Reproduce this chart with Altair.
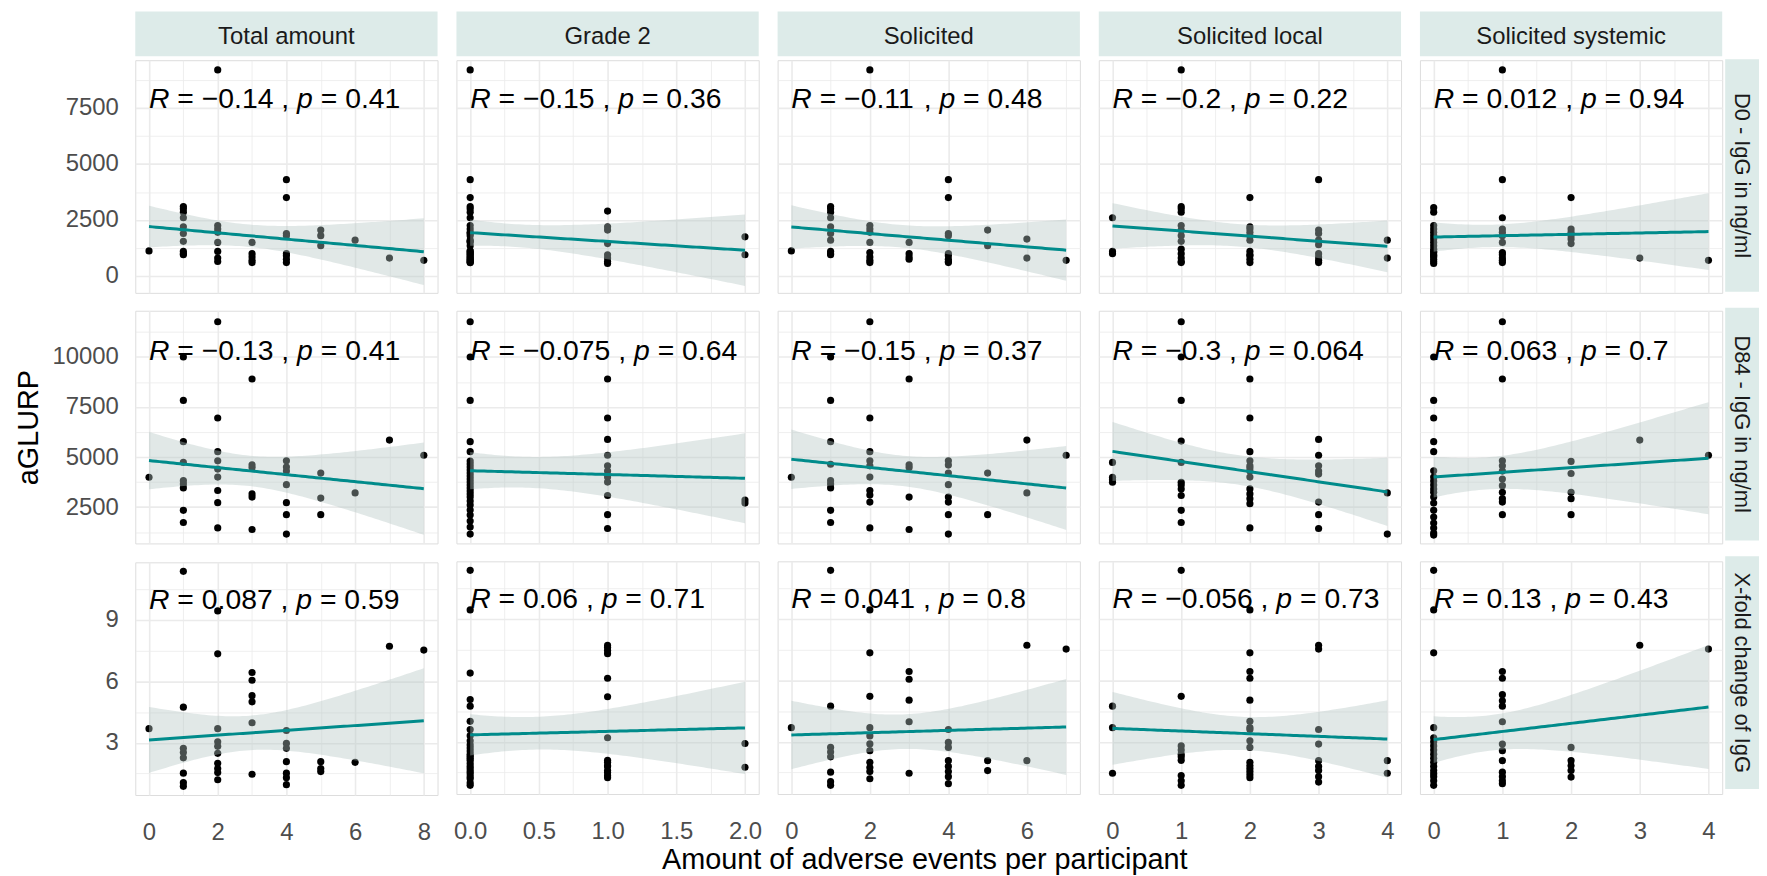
import numpy as np
import pandas as pd
import altair as alt

FONT = "Liberation Sans"

COLUMNS = ["Total amount", "Grade 2", "Solicited", "Solicited local", "Solicited systemic"]
ROWS = ["D0 - IgG in ng/ml", "D84 - IgG in ng/ml", "X-fold change of IgG"]
Y_TITLE = "aGLURP"
X_TITLE = "Amount of adverse events per participant"

R_VALUES = [
    ["−0.14", "−0.15", "−0.11", "−0.2", "0.012"],
    ["−0.13", "−0.075", "−0.15", "−0.3", "0.063"],
    ["0.087", "0.06", "0.041", "−0.056", "0.13"],
]
P_VALUES = [
    ["0.41", "0.36", "0.48", "0.22", "0.94"],
    ["0.41", "0.64", "0.37", "0.064", "0.7"],
    ["0.59", "0.71", "0.8", "0.73", "0.43"],
]

X_DOMAINS = [[-0.4, 8.4], [-0.1, 2.1], [-0.35, 7.35], [-0.2, 4.2], [-0.2, 4.2]]
X_MAJOR = [[0, 2, 4, 6, 8], [0, 0.5, 1, 1.5, 2], [0, 2, 4, 6], [0, 1, 2, 3, 4], [0, 1, 2, 3, 4]]
X_MINOR = [[1, 3, 5, 7], [0.25, 0.75, 1.25, 1.75], [1, 3, 5, 7],
           [0.5, 1.5, 2.5, 3.5], [0.5, 1.5, 2.5, 3.5]]
X_FORMAT = ["d", ".1f", "d", "d", "d"]

Y_DOMAINS = [[-751, 9633], [684, 12310], [0.457, 11.8]]
Y_MAJOR = [[0, 2500, 5000, 7500], [2500, 5000, 7500, 10000], [3, 6, 9]]
Y_MINOR = [[1250, 3750, 6250, 8750], [1250, 3750, 6250, 8750, 11250], [1.5, 4.5, 7.5, 10.5]]

# ---- points: {x value: [y values]} per panel ----
D0_TOTAL = {0: [1120], 1: [3100, 3000, 2850, 2600, 2200, 1900, 1550, 1100, 1000, 950],
            2: [9200, 2250, 2100, 1950, 1500, 1100, 800, 650], 3: [1500, 1000, 850, 700, 600],
            4: [4300, 3500, 1900, 1800, 1000, 900, 750, 600], 5: [2050, 1800, 1350],
            6: [1600], 7: [800], 8: [700]}
D0_GRADE2 = {0: [9200, 4300, 3500, 3100, 3000, 2850, 2600, 2250, 2100, 1950, 1900, 1800, 1600,
                 1550, 1500, 1350, 1120, 1100, 1000, 1000, 900, 850, 800, 750, 700, 650, 600, 600],
             1: [2900, 2200, 2050, 1450, 950, 800, 650, 560], 2: [1750, 950]}
D0_SOLICITED = {0: [1120], 1: [3100, 3000, 2850, 2600, 2200, 1900, 1600, 1100, 1000, 950],
                2: [9200, 2250, 2100, 1950, 1500, 1050, 850, 700, 600], 3: [1500, 1000, 850, 750],
                4: [4300, 3500, 1900, 1800, 1000, 900, 750, 650, 600], 5: [2050, 1350],
                6: [1650, 800], 7: [700]}
D0_LOCAL = {0: [2600, 1100, 1000],
            1: [9200, 3100, 3000, 2850, 2250, 2050, 1800, 1550, 1200, 1000, 800, 650, 600],
            2: [3500, 2200, 2100, 1950, 1800, 1600, 1100, 950, 900, 750, 600],
            3: [4300, 2050, 1900, 1600, 1400, 1000, 850, 700, 600], 4: [1600, 800]}
D0_SYSTEMIC = {0: [3050, 2850, 2250, 2100, 1950, 1800, 1650, 1500, 1350, 1200, 1100, 1050, 950,
                   900, 850, 750, 650, 560],
               1: [9200, 4300, 2600, 2100, 1950, 1800, 1500, 1050, 950, 800, 700, 600],
               2: [3500, 2100, 1950, 1800, 1650, 1450], 3: [800], 4: [700]}

D84_TOTAL = {0: [3990], 1: [10000, 7830, 5770, 4730, 3820, 3650, 3460, 2340, 1730],
             2: [11760, 6950, 5270, 4810, 4400, 4000, 3330, 2720, 1460],
             3: [8900, 4610, 4480, 3160, 3000, 1380],
             4: [4810, 4500, 4300, 3620, 2720, 2120, 1150], 5: [4200, 2950, 2120],
             6: [3210], 7: [5850], 8: [5090]}
D84_GRADE2 = {0: [11760, 10000, 7830, 5770, 5270, 4800, 4650, 4500, 4350, 4200, 4050, 3900, 3750,
                  3600, 3450, 3300, 3150, 3000, 2800, 2600, 2350, 2100, 1800, 1500, 1150],
              1: [8900, 6950, 5880, 5090, 4560, 4300, 4000, 3750, 3080, 2120, 1430],
              2: [2850, 2700]}
D84_SOLICITED = {0: [3990], 1: [10000, 7830, 5770, 4640, 3820, 3650, 3460, 2340, 1730],
                 2: [11760, 6950, 5270, 4810, 4560, 4000, 3330, 3100, 2750, 1460],
                 3: [8900, 4610, 4480, 3000, 1380],
                 4: [4810, 4600, 4200, 3620, 3000, 2750, 2120, 1150], 5: [4200, 2120],
                 6: [5850, 3210], 7: [5090]}
D84_LOCAL = {0: [4730, 3990, 3870, 3740],
             1: [11760, 10000, 7830, 5800, 4730, 3740, 3600, 3400, 3080, 2340, 1730],
             2: [8900, 6950, 5270, 4810, 4560, 4450, 4300, 4000, 3410, 3160, 2920, 2670, 1460],
             3: [5880, 5090, 4560, 4300, 4150, 2750, 2120, 1430], 4: [3210, 1150]}
D84_SYSTEMIC = {0: [10000, 7830, 6950, 5770, 5270, 4310, 4000, 3800, 3600, 3400, 3240, 3000, 2700,
                    2340, 2000, 1700, 1450, 1200, 1100],
                1: [11760, 8900, 4810, 4560, 4300, 3900, 3570, 3240, 2920, 2750, 2120],
                2: [4780, 4180, 3240, 2920, 2120], 3: [5850], 4: [5090]}

XF_TOTAL = {0: [3.69], 1: [11.36, 4.74, 2.73, 2.53, 2.27, 1.52, 1.06, 0.88],
            2: [9.43, 7.34, 3.69, 3.05, 2.83, 2.49, 2.0, 1.75, 1.55, 1.2],
            3: [6.43, 6.05, 5.3, 5.0, 3.98, 1.47], 4: [3.6, 2.97, 2.73, 2.08, 1.52, 1.3, 0.96],
            5: [2.08, 1.75, 1.6], 6: [2.05], 7: [7.71], 8: [7.52]}
XF_GRADE2 = {0: [11.36, 9.43, 6.35, 5.06, 4.74, 4.0, 3.6, 3.3, 3.05, 2.85, 2.7, 2.55, 2.4, 2.3,
                 2.2, 2.1, 1.95, 1.8, 1.68, 1.55, 1.45, 1.3, 1.2, 1.0, 0.88],
             1: [7.7, 7.6, 7.45, 7.3, 6.1, 5.2, 3.2, 2.1, 2.0, 1.85, 1.8, 1.6, 1.5, 1.35, 1.25],
             2: [2.92, 1.76]}
XF_SOLICITED = {0: [3.69], 1: [11.36, 4.74, 2.73, 2.5, 2.27, 1.52, 1.06, 0.88],
                2: [9.43, 7.34, 5.22, 3.69, 3.29, 2.9, 2.57, 2.0, 1.75, 1.55, 1.2],
                3: [6.43, 6.05, 5.03, 3.98, 1.47], 4: [3.6, 2.97, 2.73, 2.08, 1.8, 1.55, 1.3, 0.96],
                5: [2.08, 1.6], 6: [7.71, 2.08], 7: [7.52]}
XF_LOCAL = {0: [4.74, 3.69, 1.47], 1: [11.36, 5.22, 2.8, 2.6, 2.4, 2.27, 2.1, 1.36, 1.1, 0.88],
            2: [9.43, 7.34, 6.43, 6.1, 5.03, 4.0, 3.7, 3.6, 3.05, 2.73, 2.0, 1.85, 1.7, 1.55, 1.4,
                1.25],
            3: [7.71, 7.52, 3.6, 2.89, 2.08, 1.8, 1.6, 1.3, 1.04], 4: [2.08, 1.47]}
XF_SYSTEMIC = {0: [11.36, 9.43, 7.34, 3.69, 3.2, 3.0, 2.8, 2.6, 2.4, 2.2, 2.0, 1.8, 1.6, 1.45, 1.3,
                   1.1, 0.88],
               1: [6.43, 6.1, 5.3, 5.0, 4.74, 3.98, 2.89, 2.57, 2.08, 1.52, 1.3, 1.1, 0.96],
               2: [2.73, 2.08, 1.85, 1.6, 1.28], 3: [7.71], 4: [7.52]}

DATA = [
    [D0_TOTAL, D0_GRADE2, D0_SOLICITED, D0_LOCAL, D0_SYSTEMIC],
    [D84_TOTAL, D84_GRADE2, D84_SOLICITED, D84_LOCAL, D84_SYSTEMIC],
    [XF_TOTAL, XF_GRADE2, XF_SOLICITED, XF_LOCAL, XF_SYSTEMIC],
]

# ---- styling ----
PW, PH = 304, 234
STRIP_H, RSTRIP_W = 45, 34
GRID = "#EBEBEB"
STRIP_FILL = "#DDEBE9"
LINE_COLOR = "#008B8B"
BAND_COLOR = "#B4C6C3"
LABEL_FS = 28.5
CHAR_W = {'R': 0.722, 'p': 0.556, ' ': 0.278, '=': 0.584, '−': 0.584, '.': 0.278, ',': 0.278}


def text_width(s):
    return sum(CHAR_W.get(ch, 0.556) for ch in s) * LABEL_FS


def t975(df):
    z = 1.959964
    return z + (z ** 3 + z) / (4 * df) + (5 * z ** 5 + 16 * z ** 3 + 3 * z) / (96 * df ** 2)


def major_test(major):
    return "(" + " || ".join(f"abs(datum.value - ({v})) < 1e-9" for v in major) + ")"


def make_axis(major, minor, fmt, show, title=None, **extra):
    test = major_test(major)
    kw = dict(values=sorted(major + minor), grid=True, gridColor=GRID,
              gridWidth={"condition": {"test": test, "value": 1.6}, "value": 0.8},
              ticks=False, domain=False, labelOverlap=False)
    if show:
        kw.update(format=fmt, labelExpr=f"{test} ? datum.label : ''")
    else:
        kw.update(labels=False, minExtent=0)
    kw.update(extra)
    if title is None:
        return alt.Axis(title=None, **kw)
    return alt.Axis(title=title, **kw)


def panel(r, c):
    pts = DATA[r][c]
    df = pd.DataFrame([{"x": float(x), "y": float(y)} for x, ys in pts.items() for y in ys])
    xs, ys = df["x"].to_numpy(), df["y"].to_numpy()
    n = len(xs)
    xbar, ybar = xs.mean(), ys.mean()
    sxx = ((xs - xbar) ** 2).sum()
    b1 = ((xs - xbar) * (ys - ybar)).sum() / sxx
    b0 = ybar - b1 * xbar
    s = np.sqrt(((ys - b0 - b1 * xs) ** 2).sum() / (n - 2))
    t = t975(n - 2)
    gx = np.linspace(xs.min(), xs.max(), 80)
    fit = b0 + b1 * gx
    se = s * np.sqrt(1.0 / n + (gx - xbar) ** 2 / sxx)
    band = pd.DataFrame({"x": gx, "fit": fit, "lo": fit - t * se, "hi": fit + t * se})

    xscale = alt.Scale(domain=X_DOMAINS[c], nice=False, zero=False)
    yscale = alt.Scale(domain=Y_DOMAINS[r], nice=False, zero=False)
    xaxis = make_axis(X_MAJOR[c], X_MINOR[c], X_FORMAT[c], r == 2, None, labelPadding=26)
    yaxis = make_axis(Y_MAJOR[r], Y_MINOR[r], "d", c == 0,
                      Y_TITLE if (r == 1 and c == 0) else None,
                      labelPadding=17, titlePadding=9)

    def X(f):
        return alt.X(f"{f}:Q", scale=xscale, axis=xaxis)

    def Y(f):
        return alt.Y(f"{f}:Q", scale=yscale, axis=yaxis)

    pts_layer = alt.Chart(df).mark_circle(size=52, color="black", opacity=1).encode(
        x=X("x"), y=Y("y"))
    band_layer = alt.Chart(band).mark_area(color=BAND_COLOR, opacity=0.4, clip=True).encode(
        x=X("x"), y=Y("lo"), y2="hi:Q")
    line_layer = alt.Chart(band).mark_line(color=LINE_COLOR, strokeWidth=3, clip=True).encode(
        x=X("x"), y=Y("fit"))

    rv, pv = R_VALUES[r][c], P_VALUES[r][c]
    lab = pd.DataFrame({"x": [xs.min()], "y": [ys.max()]})
    pieces = [
        ("R", True, 0.0),
        ("= " + rv, False, text_width("R ")),
        (",", False, text_width("R = " + rv + " ")),
        ("p", True, text_width("R = " + rv + " , ")),
        ("= " + pv, False, text_width("R = " + rv + " , p ")),
    ]
    layers = [pts_layer, band_layer, line_layer]
    for txt, ital, dx in pieces:
        layers.append(
            alt.Chart(lab).mark_text(
                text=txt, align="left", baseline="alphabetic", dx=dx, dy=38,
                fontSize=LABEL_FS, font=FONT, color="black",
                fontStyle="italic" if ital else "normal",
            ).encode(x=X("x"), y=Y("y"))
        )
    return alt.layer(*layers).properties(width=PW, height=PH)


def top_strip(name):
    return alt.Chart(pd.DataFrame({"label": [name]})).mark_text(
        fontSize=24, font=FONT, color="#1A1A1A", baseline="alphabetic", dy=10.5
    ).encode(text="label:N").properties(
        width=PW, height=STRIP_H, view=alt.ViewBackground(fill=STRIP_FILL, stroke=None))


def right_strip(name):
    return alt.Chart(pd.DataFrame({"label": [name]})).mark_text(
        fontSize=22, font=FONT, color="#1A1A1A", baseline="middle", angle=90
    ).encode(text="label:N").properties(
        width=RSTRIP_W, height=PH, view=alt.ViewBackground(fill=STRIP_FILL, stroke=None))


col_groups = []
for c, cname in enumerate(COLUMNS):
    rows = alt.vconcat(*[panel(r, c) for r in range(3)], spacing=16)
    col_groups.append(alt.vconcat(top_strip(cname), rows, spacing=3))

spacer = alt.Chart(pd.DataFrame({"a": [0]})).mark_text(text="").encode(
    opacity=alt.value(0)).properties(width=RSTRIP_W, height=STRIP_H)
rstrips = alt.vconcat(*[right_strip(n) for n in ROWS], spacing=16)
rcol = alt.vconcat(spacer, rstrips, spacing=3)

# the "0.0" / "2.0" tick labels of the Grade 2 column overhang its panel by ~3 px
left_group = alt.hconcat(col_groups[0], col_groups[1], col_groups[2], spacing=14)
grid = alt.hconcat(left_group, col_groups[3], col_groups[4], spacing=17)
main = alt.hconcat(grid, rcol, spacing=2)

TOTAL_W = 5 * PW + 4 * 17
xtitle = alt.Chart(pd.DataFrame({"label": [X_TITLE]})).mark_text(
    fontSize=29, font=FONT, color="black", baseline="alphabetic", dy=4
).encode(text="label:N").properties(width=TOTAL_W, height=26)

chart = alt.vconcat(main, xtitle, spacing=0).properties(
    padding={"left": 5, "top": 1, "right": 0, "bottom": 0},
    background="white",
).configure_view(stroke=None).configure(font=FONT).configure_axis(
    labelFont=FONT, titleFont=FONT, labelFontSize=24, labelColor="#4D4D4D",
    titleFontSize=29, titleFontWeight="normal", titleColor="black",
)

chart.save("out.html", embed_options={"renderer": "svg", "actions": False})
